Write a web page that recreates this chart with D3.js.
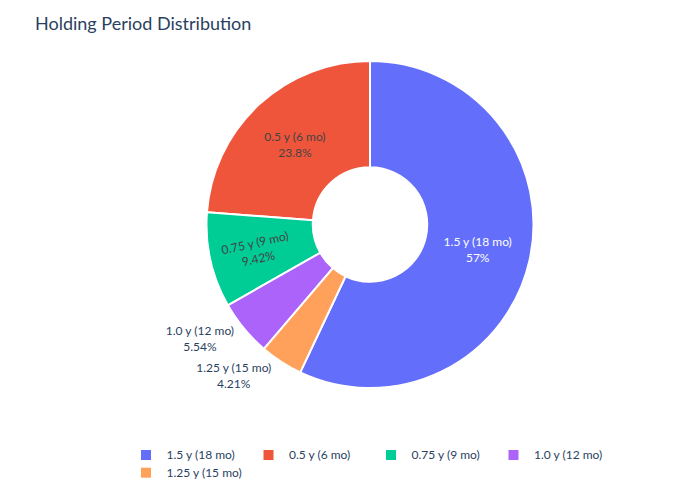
<!DOCTYPE html>
<html>
<head>
<meta charset="utf-8">
<script src="https://cdn.jsdelivr.net/npm/d3@7"></script>
<style>
  body { margin: 0; background: #fff; }
  text { font-family: "Lato", "Open Sans", sans-serif; }
</style>
</head>
<body>
<svg id="chart" width="700" height="500"></svg>
<script>
// data, legend order (descending)
const labels = ["1.5 y (18 mo)", "0.5 y (6 mo)", "0.75 y (9 mo)", "1.0 y (12 mo)", "1.25 y (15 mo)"];
const shares = [57.0, 23.8, 9.42, 5.54, 4.21];
const pctText = ["57%", "23.8%", "9.42%", "5.54%", "4.21%"];
const colors = ["#636efa", "#EF553B", "#00cc96", "#ab63fa", "#FFA15A"];
const insideLabel = [true, true, true, false, false];
const insideColor = ["#ffffff", "#444444", "#444444", "#444444", "#444444"];

const svg = d3.select("#chart");
const cx = 370, cy = 224.5;
const outerR = 163.5, innerR = outerR * 0.35;
const fontSize = 12;
const darkText = "#2a3f5f";

// title
svg.append("text")
    .attr("x", 35)
    .attr("y", 29.5)
    .attr("font-size", 18)
    .attr("fill", darkText)
    .text("Holding Period Distribution");

// first slice ends at 12 o'clock, the rest run counterclockwise
const total = d3.sum(shares);
const a0 = 2 * Math.PI * shares[0] / total;
const pie = d3.pie().sort(null).startAngle(a0).endAngle(a0 - 2 * Math.PI);
const arcs = pie(shares);

const arc = d3.arc().innerRadius(innerR).outerRadius(outerR);

const g = svg.append("g").attr("transform", `translate(${cx},${cy})`);

g.selectAll("path.slice")
    .data(arcs)
    .join("path")
    .attr("class", "slice")
    .attr("d", arc)
    .attr("fill", (d, i) => colors[i])
    .attr("stroke", "#fff")
    .attr("stroke-width", 2)
    .attr("stroke-linejoin", "round");

// labels
arcs.forEach((d, i) => {
    const mid = (d.startAngle + d.endAngle) / 2;
    const ux = Math.sin(mid), uy = -Math.cos(mid);
    const lab = g.append("text")
        .attr("font-size", fontSize)
        .attr("text-anchor", "middle");
    lab.append("tspan").attr("x", 0).attr("dy", 0).text(labels[i]);
    lab.append("tspan").attr("x", 0).attr("dy", 16).text(pctText[i]);

    if (insideLabel[i]) {
        const [x, y] = arc.centroid(d);
        let rot = 0, shift = 0;
        // narrow slice -> radial text, pushed a bit outward
        if (Math.abs(d.endAngle - d.startAngle) < 1) {
            rot = mid * 180 / Math.PI - 90;
            if (rot < -90) rot += 180;
            if (rot > 90) rot -= 180;
            shift = 6;
        }
        const tx = x + ux * shift, ty = y + uy * shift;
        lab.attr("fill", insideColor[i])
            .attr("transform", `translate(${tx},${ty}) rotate(${rot}) translate(0,-3)`);
    } else {
        const px = ux * outerR, py = uy * outerR;
        const bb = lab.node().getBBox();
        // box right edge next to the outer edge
        const bx = px - 10 - bb.width / 2;
        const centerY = py + 20 * uy - 3;
        const by = centerY - bb.height / 2 - bb.y;
        lab.attr("fill", darkText).attr("transform", `translate(${bx},${by})`);
    }
});

// legend
const legend = svg.append("g");
const colW = 122.5, rowH = 17.7;
labels.forEach((name, i) => {
    const col = i % 4, row = Math.floor(i / 4);
    const x = 146 + col * colW, y = 455 + row * rowH;
    legend.append("rect")
        .attr("x", x - 5).attr("y", y - 5)
        .attr("width", 10).attr("height", 10)
        .attr("fill", colors[i]);
    legend.append("text")
        .attr("x", x + 20.5).attr("y", y + 4.3)
        .attr("font-size", fontSize)
        .attr("fill", darkText)
        .text(name);
});
</script>
</body>
</html>
